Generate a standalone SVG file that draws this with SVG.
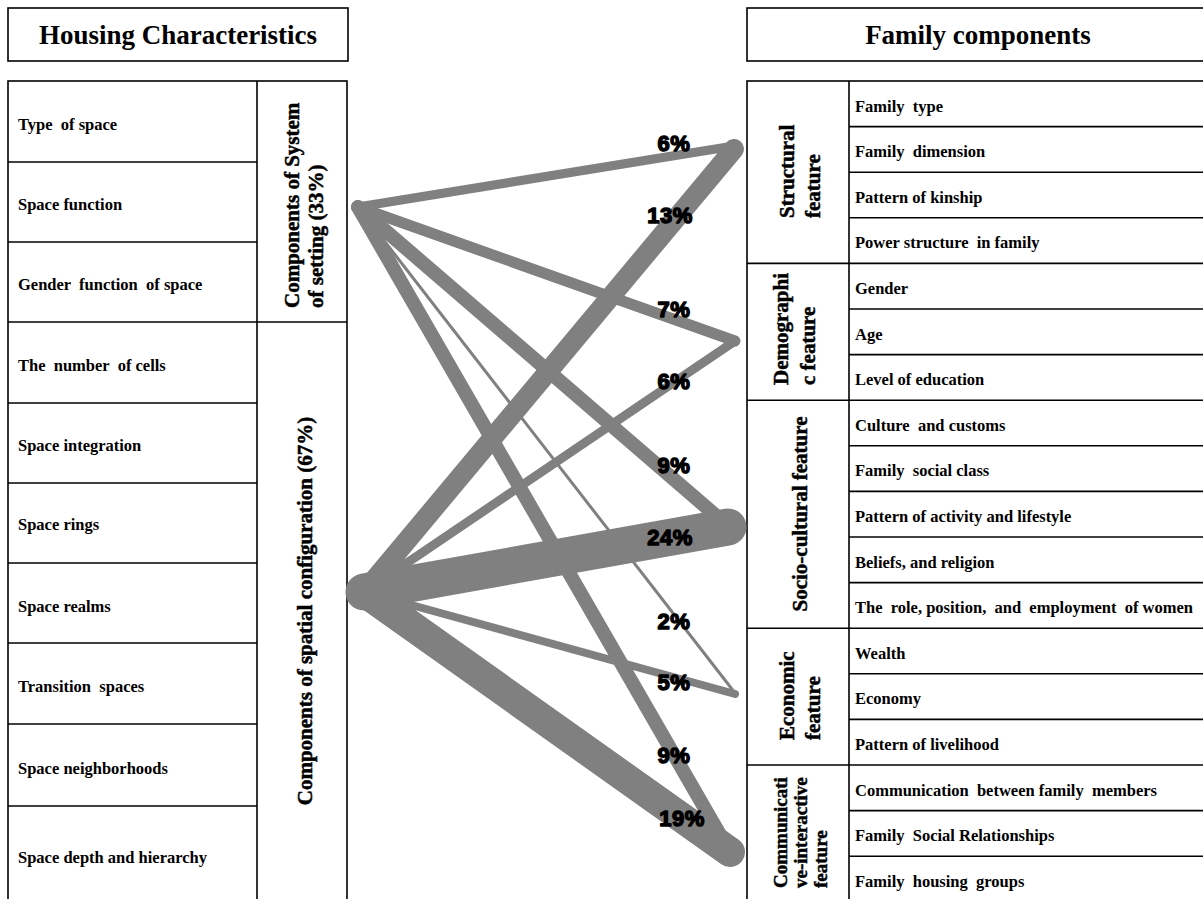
<svg xmlns="http://www.w3.org/2000/svg" width="1203" height="899" viewBox="0 0 1203 899">
<style>
.bx{fill:#fff;stroke:#000;stroke-width:1.6}
.ln{stroke:#000;stroke-width:1.6;fill:none}
.title{font-family:"Liberation Serif","Times New Roman",serif;font-weight:bold;font-size:27px;fill:#000}
.row{font-family:"Liberation Serif","Times New Roman",serif;font-weight:bold;font-size:16.5px;fill:#000;white-space:pre}
.grp{font-family:"Liberation Serif","Times New Roman",serif;font-weight:bold;font-size:21px;fill:#000;stroke:#000;stroke-width:0.5}
.grp2{font-family:"Liberation Serif","Times New Roman",serif;font-weight:bold;font-size:19px;fill:#000;stroke:#000;stroke-width:0.5}
.pct{font-family:"Liberation Sans",Arial,sans-serif;font-weight:bold;font-size:22px;fill:#000;stroke:#000;stroke-width:1.4;stroke-linejoin:round;text-anchor:middle;letter-spacing:0.5px}
.c{stroke:#808080;stroke-linecap:round;fill:none}
</style>

<g id="housing-title">
<rect class="bx" x="8" y="8" width="340" height="53"/>
<text class="title" x="178" y="44" text-anchor="middle">Housing Characteristics</text>
</g>

<g id="family-title">
<rect class="bx" x="747" y="8" width="470" height="53"/>
<text class="title" x="978" y="44" text-anchor="middle">Family components</text>
</g>

<g id="housing-table">
<rect class="bx" x="8" y="81" width="339" height="830"/>
<line class="ln" x1="257" y1="81" x2="257" y2="911"/>
<line class="ln" x1="8" y1="162" x2="257" y2="162"/>
<line class="ln" x1="8" y1="242" x2="257" y2="242"/>
<line class="ln" x1="8" y1="322" x2="347" y2="322"/>
<line class="ln" x1="8" y1="403" x2="257" y2="403"/>
<line class="ln" x1="8" y1="483" x2="257" y2="483"/>
<line class="ln" x1="8" y1="563" x2="257" y2="563"/>
<line class="ln" x1="8" y1="643" x2="257" y2="643"/>
<line class="ln" x1="8" y1="724" x2="257" y2="724"/>
<line class="ln" x1="8" y1="806" x2="257" y2="806"/>
<text class="row" x="18" y="130">Type  of space</text>
<text class="row" x="18" y="209.5">Space function</text>
<text class="row" x="18" y="289.5">Gender  function  of space</text>
<text class="row" x="18" y="370.5">The  number  of cells</text>
<text class="row" x="18" y="450.5">Space integration</text>
<text class="row" x="18" y="529.5">Space rings</text>
<text class="row" x="18" y="611.5">Space realms</text>
<text class="row" x="18" y="691.5">Transition  spaces</text>
<text class="row" x="18" y="773.5">Space neighborhoods</text>
<text class="row" x="18" y="862.5">Space depth and hierarchy</text>
</g>

<g id="setting-group">
<text class="grp" transform="translate(299,308) rotate(-90)">Components of System</text>
<text class="grp" transform="translate(323,308) rotate(-90)">of  setting (33%)</text>
</g>

<g id="spatial-group">
<text class="grp" transform="translate(312,611) rotate(-90)" text-anchor="middle">Components of spatial configuration (67%)</text>
</g>

<g id="family-table">
<rect class="bx" x="747" y="81" width="470" height="830"/>
<line class="ln" x1="849" y1="81" x2="849" y2="911"/>
<line class="ln" x1="849" y1="126.6" x2="1217" y2="126.6"/>
<line class="ln" x1="849" y1="172.2" x2="1217" y2="172.2"/>
<line class="ln" x1="849" y1="217.8" x2="1217" y2="217.8"/>
<line class="ln" x1="747" y1="263.4" x2="1217" y2="263.4"/>
<line class="ln" x1="849" y1="309" x2="1217" y2="309"/>
<line class="ln" x1="849" y1="354.6" x2="1217" y2="354.6"/>
<line class="ln" x1="747" y1="400.2" x2="1217" y2="400.2"/>
<line class="ln" x1="849" y1="445.8" x2="1217" y2="445.8"/>
<line class="ln" x1="849" y1="491.4" x2="1217" y2="491.4"/>
<line class="ln" x1="849" y1="537" x2="1217" y2="537"/>
<line class="ln" x1="849" y1="582.6" x2="1217" y2="582.6"/>
<line class="ln" x1="747" y1="628.2" x2="1217" y2="628.2"/>
<line class="ln" x1="849" y1="673.8" x2="1217" y2="673.8"/>
<line class="ln" x1="849" y1="719.4" x2="1217" y2="719.4"/>
<line class="ln" x1="747" y1="765" x2="1217" y2="765"/>
<line class="ln" x1="849" y1="810.6" x2="1217" y2="810.6"/>
<line class="ln" x1="849" y1="856.2" x2="1217" y2="856.2"/>
<text class="row" x="855" y="111.5">Family  type</text>
<text class="row" x="855" y="157.1">Family  dimension</text>
<text class="row" x="855" y="202.7">Pattern of kinship</text>
<text class="row" x="855" y="248.3">Power structure  in family</text>
<text class="row" x="855" y="293.9">Gender</text>
<text class="row" x="855" y="339.5">Age</text>
<text class="row" x="855" y="385.1">Level of education</text>
<text class="row" x="855" y="430.7">Culture  and customs</text>
<text class="row" x="855" y="476.3">Family  social class</text>
<text class="row" x="855" y="521.9">Pattern of activity and lifestyle</text>
<text class="row" x="855" y="567.5">Beliefs, and religion</text>
<text class="row" x="855" y="613.1">The  role, position,  and  employment  of women</text>
<text class="row" x="855" y="658.7">Wealth</text>
<text class="row" x="855" y="704.3">Economy</text>
<text class="row" x="855" y="749.9">Pattern of livelihood</text>
<text class="row" x="855" y="795.5">Communication  between family  members</text>
<text class="row" x="855" y="841.1">Family  Social Relationships</text>
<text class="row" x="855" y="886.7">Family  housing  groups</text>
</g>

<g id="structural">
<text class="grp" transform="translate(794,218) rotate(-90)">Structural</text>
<text class="grp" transform="translate(820,218) rotate(-90)">feature</text>
</g>
<g id="demographic">
<text class="grp" transform="translate(788,385) rotate(-90)">Demographi</text>
<text class="grp" transform="translate(815,385) rotate(-90)">c feature</text>
</g>
<g id="socio-cultural">
<text class="grp" transform="translate(807,514) rotate(-90)" text-anchor="middle">Socio-cultural feature</text>
</g>
<g id="economic">
<text class="grp" transform="translate(794,740) rotate(-90)">Economic</text>
<text class="grp" transform="translate(820,740) rotate(-90)">feature</text>
</g>
<g id="communicative">
<text class="grp2" transform="translate(787,888) rotate(-90)">Communicati</text>
<text class="grp2" transform="translate(807,888) rotate(-90)">ve-interactive</text>
<text class="grp2" transform="translate(827,888) rotate(-90)">feature</text>
</g>

<g id="connectors">
<line class="c" x1="358" y1="207" x2="734" y2="146" stroke-width="9"/>
<line class="c" x1="358" y1="207" x2="735" y2="341" stroke-width="11"/>
<line class="c" x1="358" y1="207" x2="728" y2="526" stroke-width="14"/>
<line class="c" x1="358" y1="207" x2="735" y2="693" stroke-width="3"/>
<line class="c" x1="358" y1="207" x2="730" y2="852" stroke-width="14"/>
<line class="c" x1="364" y1="592" x2="734" y2="149" stroke-width="20"/>
<line class="c" x1="364" y1="592" x2="735" y2="341" stroke-width="9"/>
<line class="c" x1="364" y1="592" x2="728" y2="527" stroke-width="37"/>
<line class="c" x1="364" y1="592" x2="735" y2="694" stroke-width="8"/>
<line class="c" x1="364" y1="592" x2="730" y2="852" stroke-width="30"/>
</g>

<g id="labels">
<text class="pct" x="674" y="151">6%</text>
<text class="pct" x="670" y="223">13%</text>
<text class="pct" x="674" y="317">7%</text>
<text class="pct" x="674" y="389">6%</text>
<text class="pct" x="674" y="473">9%</text>
<text class="pct" x="670" y="545">24%</text>
<text class="pct" x="674" y="629">2%</text>
<text class="pct" x="674" y="690">5%</text>
<text class="pct" x="674" y="763">9%</text>
<text class="pct" x="682" y="826">19%</text>
</g>
</svg>
